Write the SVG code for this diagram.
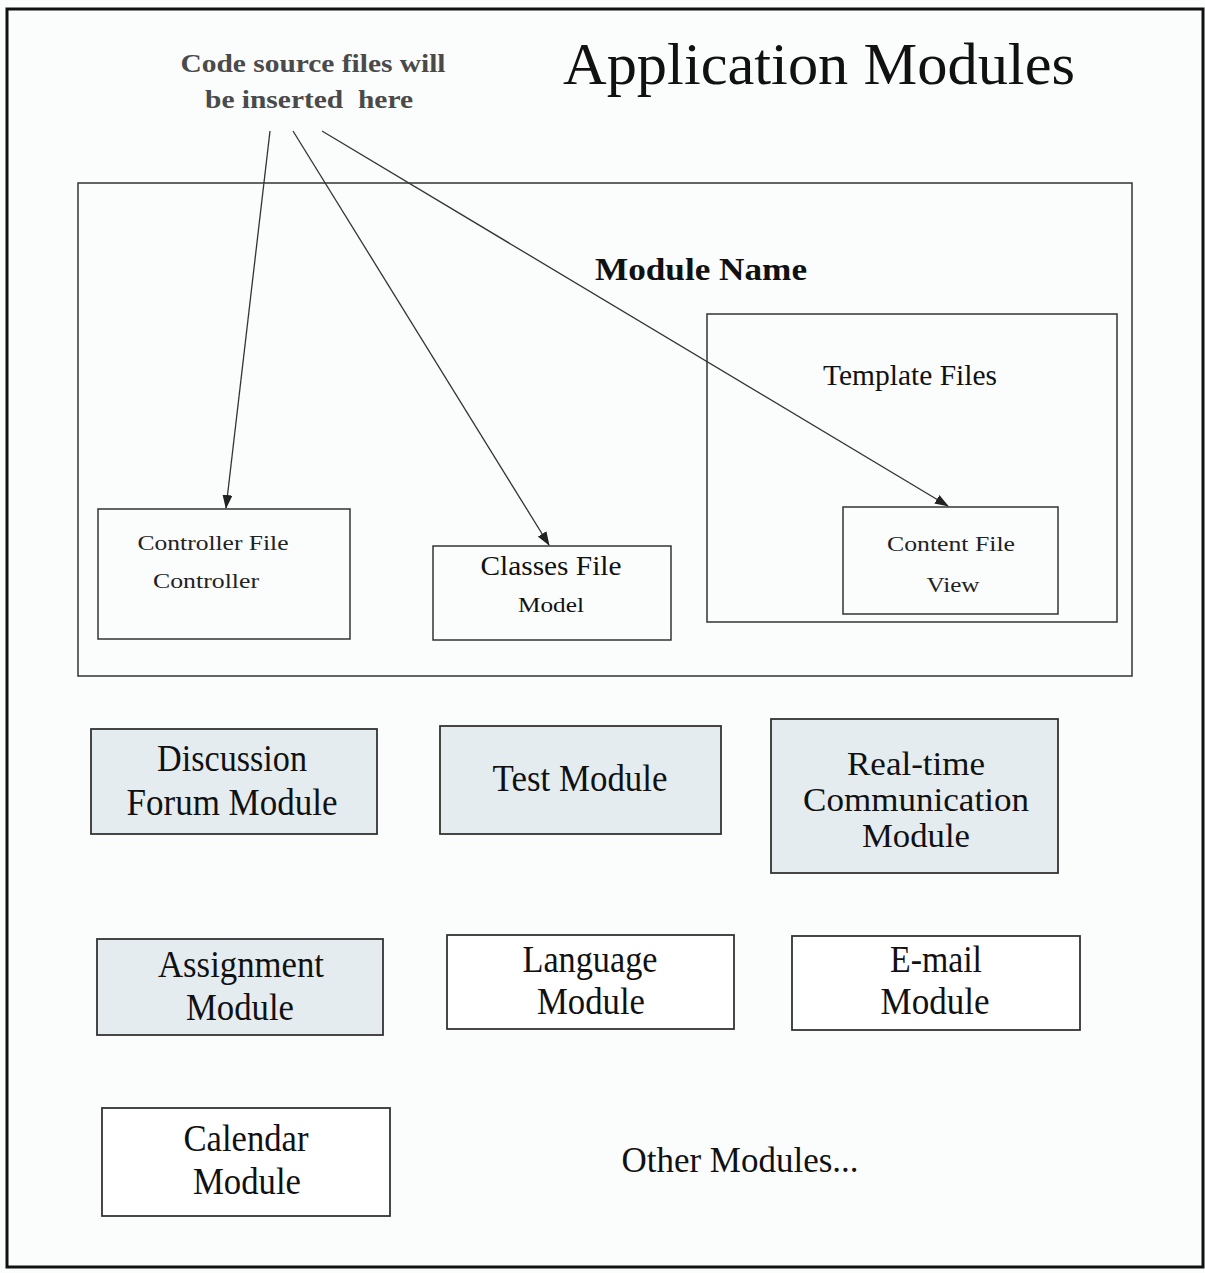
<svg xmlns="http://www.w3.org/2000/svg" width="1205" height="1273" viewBox="0 0 1205 1273">
  <style>
    .frame { fill: none; stroke: #111; stroke-width: 3; }
    .box { fill: none; stroke: #333; stroke-width: 1.5; }
    .mod { fill: #ffffff; stroke: #333; stroke-width: 1.8; }
    .shade { fill: #e5ecef; }
    .t { font-family: "Liberation Serif", "Times New Roman", serif; fill: #111; text-anchor: middle; white-space: pre; }
    .note { font-weight: bold; fill: #4a4a4a; font-size: 26px; }
    .big { font-size: 37px; }
    .tight { font-size: 33px; }
    .small { font-size: 22px; fill: #222; }
    .conn { stroke: #333; stroke-width: 1.3; fill: none; marker-end: url(#arrow); }
  </style>
  <defs>
    <marker id="arrow" markerUnits="userSpaceOnUse" markerWidth="14" markerHeight="10" refX="13" refY="5" orient="auto">
      <path d="M0,0 L14,5 L0,10 Z" fill="#222"/>
    </marker>
  </defs>

  <rect width="1205" height="1273" fill="#fbfcfc"/>

  <!-- page frame -->
  <rect class="frame" x="7" y="9" width="1196" height="1258"/>

  <!-- headings -->
  <g id="title">
    <text class="t" x="819" y="84" font-size="60" textLength="512" lengthAdjust="spacingAndGlyphs">Application Modules</text>
  </g>
  <g id="note">
    <text class="t note" x="313" y="72" textLength="265" lengthAdjust="spacingAndGlyphs">Code source files will</text>
    <text class="t note" x="309" y="108" textLength="208" lengthAdjust="spacingAndGlyphs">be inserted  here</text>
  </g>

  <!-- module layout -->
  <g id="module-name">
    <rect class="box" x="78" y="183" width="1054" height="493"/>
    <text class="t" x="701" y="280" font-size="32" font-weight="bold" textLength="212" lengthAdjust="spacingAndGlyphs">Module Name</text>
  </g>
  <g id="template-files">
    <rect class="box" x="707" y="314" width="410" height="308"/>
    <text class="t" x="910" y="385" font-size="29" textLength="174" lengthAdjust="spacingAndGlyphs">Template Files</text>
  </g>
  <g id="content-file">
    <rect class="box" x="843" y="507" width="215" height="107"/>
    <text class="t small" x="951" y="551" textLength="128" lengthAdjust="spacingAndGlyphs">Content File</text>
    <text class="t small" x="953" y="592" textLength="53" lengthAdjust="spacingAndGlyphs">View</text>
  </g>
  <g id="controller-file">
    <rect class="box" x="98" y="509" width="252" height="130"/>
    <text class="t small" x="213" y="550" textLength="151" lengthAdjust="spacingAndGlyphs">Controller File</text>
    <text class="t small" x="206" y="588" textLength="106" lengthAdjust="spacingAndGlyphs">Controller</text>
  </g>
  <g id="classes-file">
    <rect class="box" x="433" y="546" width="238" height="94"/>
    <text class="t" x="551" y="575" font-size="27" textLength="141" lengthAdjust="spacingAndGlyphs">Classes File</text>
    <text class="t" x="551" y="612" font-size="20" fill="#555" textLength="66" lengthAdjust="spacingAndGlyphs">Model</text>
  </g>

  <!-- connectors -->
  <g id="connectors">
    <line class="conn" x1="270" y1="131" x2="226" y2="508"/>
    <line class="conn" x1="293" y1="131" x2="549" y2="545"/>
    <line class="conn" x1="322" y1="131" x2="948" y2="506"/>
  </g>

  <!-- application modules -->
  <g id="discussion-forum">
    <rect class="mod shade" x="91" y="729" width="286" height="105"/>
    <text class="t big" x="232" y="771" textLength="150" lengthAdjust="spacingAndGlyphs">Discussion</text>
    <text class="t big" x="232" y="815" textLength="211" lengthAdjust="spacingAndGlyphs">Forum Module</text>
  </g>
  <g id="test-module">
    <rect class="mod shade" x="440" y="726" width="281" height="108"/>
    <text class="t big" x="580" y="791" textLength="175" lengthAdjust="spacingAndGlyphs">Test Module</text>
  </g>
  <g id="realtime-communication">
    <rect class="mod shade" x="771" y="719" width="287" height="154"/>
    <text class="t tight" x="916" y="775" textLength="138" lengthAdjust="spacingAndGlyphs">Real-time</text>
    <text class="t tight" x="916" y="811" textLength="226" lengthAdjust="spacingAndGlyphs">Communication</text>
    <text class="t tight" x="916" y="847" textLength="108" lengthAdjust="spacingAndGlyphs">Module</text>
  </g>
  <g id="assignment">
    <rect class="mod shade" x="97" y="939" width="286" height="96"/>
    <text class="t big" x="241" y="977" textLength="166" lengthAdjust="spacingAndGlyphs">Assignment</text>
    <text class="t big" x="240" y="1020" textLength="108" lengthAdjust="spacingAndGlyphs">Module</text>
  </g>
  <g id="language">
    <rect class="mod" x="447" y="935" width="287" height="94"/>
    <text class="t big" x="590" y="972" textLength="135" lengthAdjust="spacingAndGlyphs">Language</text>
    <text class="t big" x="591" y="1014" textLength="108" lengthAdjust="spacingAndGlyphs">Module</text>
  </g>
  <g id="email">
    <rect class="mod" x="792" y="936" width="288" height="94"/>
    <text class="t big" x="936" y="972" textLength="92" lengthAdjust="spacingAndGlyphs">E-mail</text>
    <text class="t big" x="935" y="1014" textLength="109" lengthAdjust="spacingAndGlyphs">Module</text>
  </g>
  <g id="calendar">
    <rect class="mod" x="102" y="1108" width="288" height="108"/>
    <text class="t big" x="246" y="1151" textLength="125" lengthAdjust="spacingAndGlyphs">Calendar</text>
    <text class="t big" x="247" y="1194" textLength="108" lengthAdjust="spacingAndGlyphs">Module</text>
  </g>
  <g id="other-modules">
    <text class="t" x="740" y="1172" font-size="35" textLength="237" lengthAdjust="spacingAndGlyphs">Other Modules...</text>
  </g>
</svg>
